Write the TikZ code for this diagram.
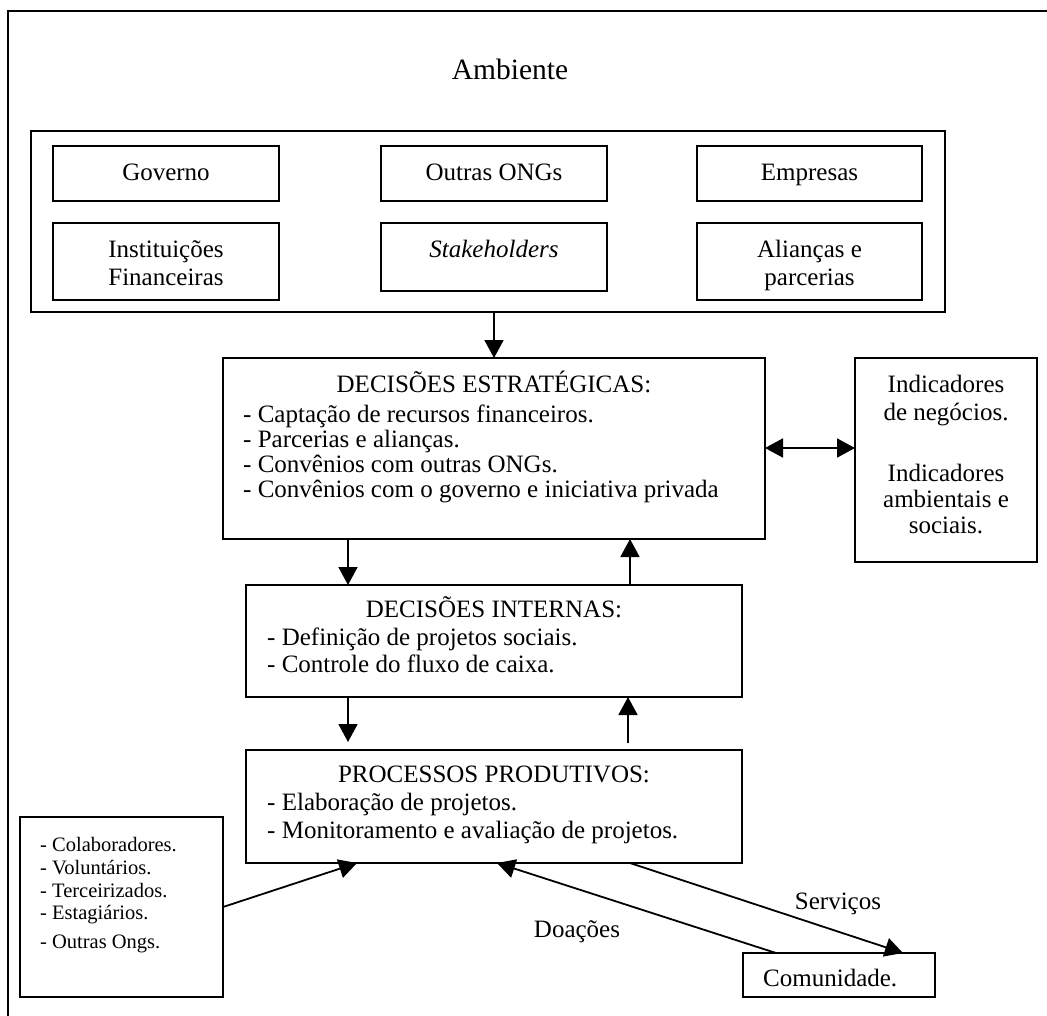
\documentclass[tikz,border=0pt]{standalone}
\usepackage{fontspec}
\setmainfont{Liberation Serif}
\usetikzlibrary{arrows.meta}

\tikzset{
  box/.style={draw, line width=1.8pt, inner sep=0pt, outer sep=0pt},
  tip/.tip={Triangle[width=19pt,length=18pt]},
  link/.style={line width=1.8pt, -tip},
  biglabel/.style={inner sep=0pt, font=\fontsize{29.5}{32}\selectfont},
  txt/.style={inner sep=0pt, font=\fontsize{25}{27}\selectfont},
  smalltxt/.style={inner sep=0pt, font=\fontsize{20.5}{23}\selectfont},
}

% \mkbox{name}{x1}{y1}{x2}{y2}: rectangle node spanning the given corners
\newcommand\mkbox[5]{%
  \node[box, minimum width={(#4-#2)*1pt}, minimum height={(#5-#3)*1pt}]
    (#1) at ({(#2+#4)/2},{(#3+#5)/2}) {};}

\begin{document}
\begin{tikzpicture}[x=1pt, y=-1pt]
\useasboundingbox (0,0) rectangle (1047,1015);
\clip (0,0) rectangle (1047,1015);

% outer frame
\draw[line width=1.8pt] (8,11) rectangle (1070,1040);
\node[biglabel, anchor=base] (amb) at (510,79) {Ambiente};

% environment block
\mkbox{env}{31}{131}{945}{312}
\mkbox{gov}{53}{146}{279}{201}
\mkbox{ong}{381}{146}{607}{201}
\mkbox{emp}{697}{146}{922}{201}
\mkbox{ins}{53}{223}{279}{300}
\mkbox{stk}{381}{223}{607}{291}
\mkbox{ali}{697}{223}{922}{300}

\node[txt, anchor=base] at (166,180) {Governo};
\node[txt, anchor=base] at (494,180) {Outras ONGs};
\node[txt, anchor=base] at (809.5,180) {Empresas};
\node[txt, anchor=base] at (166,257) {Instituições};
\node[txt, anchor=base] at (166,285) {Financeiras};
\node[txt, anchor=base] at (494,257) {\itshape Stakeholders};
\node[txt, anchor=base] at (809.5,257) {Alianças e};
\node[txt, anchor=base] at (809.5,285) {parcerias};

% strategic decisions
\mkbox{de}{223}{358}{765}{539}
\node[txt, anchor=base] at (494,392) {DECISÕES ESTRATÉGICAS:};
\node[txt, anchor=base west] at (243,422) {- Captação de recursos financeiros.};
\node[txt, anchor=base west] at (243,447) {- Parcerias e alianças.};
\node[txt, anchor=base west] at (243,472) {- Convênios com outras ONGs.};
\node[txt, anchor=base west] at (243,497) {- Convênios com o governo e iniciativa privada};

% indicators
\mkbox{ind}{855}{358}{1037}{562}
\node[txt, anchor=base] at (946,392) {Indicadores};
\node[txt, anchor=base] at (946,420) {de negócios.};
\node[txt, anchor=base] at (946,481) {Indicadores};
\node[txt, anchor=base] at (946,507) {ambientais e};
\node[txt, anchor=base] at (946,533) {sociais.};

% internal decisions
\mkbox{di}{246}{585}{742}{697}
\node[txt, anchor=base] at (494,617) {DECISÕES INTERNAS:};
\node[txt, anchor=base west] at (267,645) {- Definição de projetos sociais.};
\node[txt, anchor=base west] at (267,672) {- Controle do fluxo de caixa.};

% productive processes
\mkbox{pp}{246}{750}{742}{863}
\node[txt, anchor=base] at (494,782) {PROCESSOS PRODUTIVOS:};
\node[txt, anchor=base west] at (267,810) {- Elaboração de projetos.};
\node[txt, anchor=base west] at (267,838) {- Monitoramento e avaliação de projetos.};

% human resources
\mkbox{lft}{20}{817}{223}{997}
\node[smalltxt, anchor=base west] at (40,851) {- Colaboradores.};
\node[smalltxt, anchor=base west] at (40,874) {- Voluntários.};
\node[smalltxt, anchor=base west] at (40,897) {- Terceirizados.};
\node[smalltxt, anchor=base west] at (40,919) {- Estagiários.};
\node[smalltxt, anchor=base west] at (40,948) {- Outras Ongs.};

% community
\mkbox{com}{743}{953}{935}{997}
\node[txt, anchor=base west] at (763,986) {Comunidade.};

% reference columns / rows for connectors
\coordinate (xa) at (348,0);
\coordinate (xb) at (630,0);
\coordinate (xc) at (628,0);
\coordinate (xd) at (357,0);
\coordinate (xe) at (776,0);
\coordinate (xf) at (497,0);
\coordinate (xg) at (630,0);
\coordinate (xh) at (903,0);
\coordinate (ya) at (0,448);

% connectors
\draw[link] (env.south -| de.north) -- (de.north);
\draw[link] (de.south -| xa) -- (di.north -| xa);
\draw[link] (di.north -| xb) -- (de.south -| xb);
\draw[link, shorten >=8pt] (di.south -| xa) -- (pp.north -| xa);
\draw[link, shorten <=7pt] (pp.north -| xc) -- (di.south -| xc);
\draw[line width=1.8pt, tip-tip] (de.east |- ya) -- (ind.west |- ya);
\draw[link] (lft.east) -- (pp.south -| xd);
\draw[link] (com.north -| xe) -- (pp.south -| xf);
\draw[link] (pp.south -| xg) -- (com.north -| xh);

\node[txt, anchor=base] (srv) at (838,909) {Serviços};
\node[txt, anchor=base] (doa) at (577,937) {Doações};
\end{tikzpicture}
\end{document}
